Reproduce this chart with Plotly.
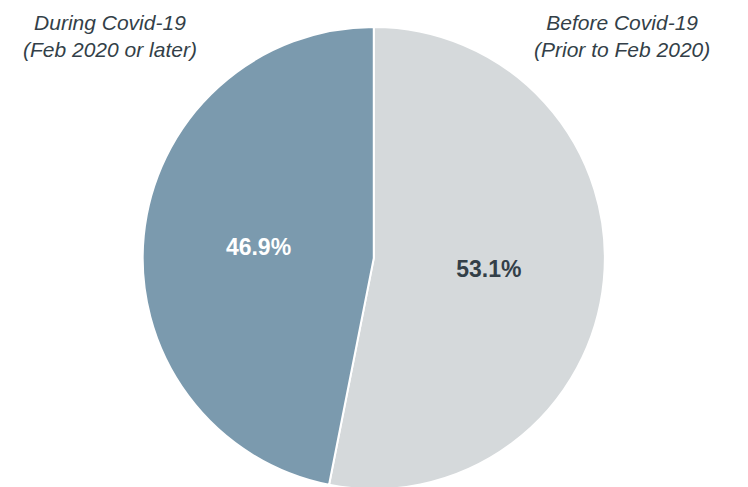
import plotly.graph_objects as go

LABELS = ["Before Covid-19<br>(Prior to Feb 2020)", "During Covid-19<br>(Feb 2020 or later)"]
VALUES = [53.1, 46.9]
SLICE_COLORS = ["#d5d9db", "#7b9aae"]
TEXT_COLORS = ["#333f48", "#ffffff"]

TEXT_FONT = "Liberation Sans, Arial, sans-serif"

fig = go.Figure()

fig.add_trace(go.Pie(
    labels=LABELS,
    values=VALUES,
    sort=False,
    direction="clockwise",
    rotation=0,
    marker=dict(colors=SLICE_COLORS, line=dict(color="white", width=2)),
    texttemplate="<b>%{value:.1f}%</b>",
    textposition="inside",
    insidetextorientation="horizontal",
    textfont=dict(family=TEXT_FONT, size=23, color=TEXT_COLORS),
    domain=dict(x=[0.180, 0.798], y=[0.012, 0.961]),
    showlegend=False,
    hoverinfo="label+percent",
))

# category labels placed in the top corners
fig.add_annotation(
    text="<i>" + LABELS[1] + "</i>",
    x=102, y=459, xref="x", yref="y",
    showarrow=False, align="center",
    font=dict(family=TEXT_FONT, size=21, color="#333f48"),
)
fig.add_annotation(
    text="<i>" + LABELS[0] + "</i>",
    x=614, y=459, xref="x", yref="y",
    showarrow=False, align="center",
    font=dict(family=TEXT_FONT, size=21, color="#333f48"),
)

fig.update_layout(
    width=748,
    height=487,
    margin=dict(l=0, r=0, t=0, b=0),
    paper_bgcolor="white",
    plot_bgcolor="rgba(0,0,0,0)",
    xaxis=dict(range=[0, 748], visible=False, fixedrange=True),
    yaxis=dict(range=[0, 487], visible=False, fixedrange=True),
)

fig.write_html("out.html")
